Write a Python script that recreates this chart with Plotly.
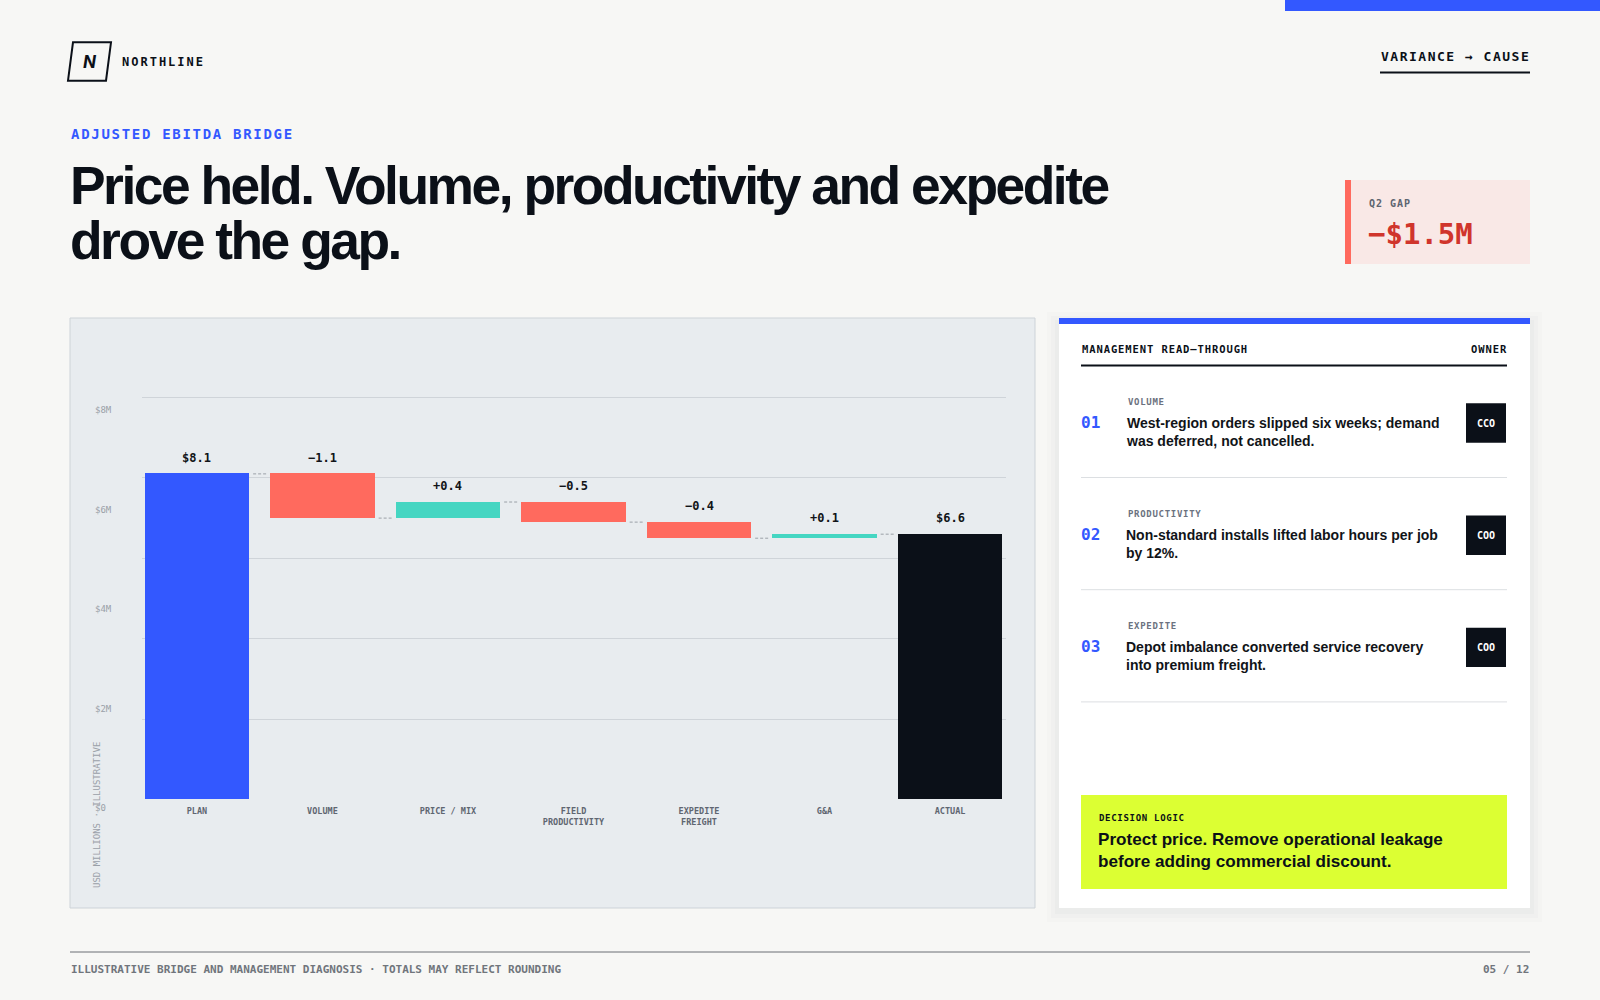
import plotly.graph_objects as go

# ---------------- data ----------------
categories = ["PLAN", "VOLUME", "PRICE / MIX", "FIELD<br>PRODUCTIVITY",
              "EXPEDITE<br>FREIGHT", "G&A", "ACTUAL"]
values = [8.1, -1.1, 0.4, -0.5, -0.4, 0.1, 6.6]
measures = ["absolute", "relative", "relative", "relative", "relative", "relative", "total"]
value_labels = ["$8.1", "\u22121.1", "+0.4", "\u22120.5", "\u22120.4", "+0.1", "$6.6"]
grid_values = [2, 4, 6, 8, 10]
tick_values = [0, 2, 4, 6, 8]
tick_text = ["$0", "$2M", "$4M", "$6M", "$8M"]

item_numbers = ["01", "02", "03"]
item_tags = ["VOLUME", "PRODUCTIVITY", "EXPEDITE"]
item_texts = ["West-region orders slipped six weeks; demand<br>was deferred, not cancelled.",
              "Non-standard installs lifted labor hours per job<br>by 12%.",
              "Depot imbalance converted service recovery<br>into premium freight."]
item_owners = ["CCO", "COO", "COO"]

# ---------------- styles ----------------
W, H = 1600, 1000
BG = "#f7f7f5"
BLUE = "#3358ff"
RED = "#ff6a5e"
TEAL = "#45d6c2"
INK = "#0b1018"
MONO = "DejaVu Sans Mono"
SANS = "Liberation Sans"


def px(x):
    return x / W


def py(y):
    return 1 - y / H


# ---------------- waterfall geometry from data ----------------
bases, heights, colors, levels = [], [], [], []
running = 0.0
for v, m in zip(values, measures):
    if m == "absolute":
        bases.append(0)
        heights.append(v)
        running = v
        colors.append(BLUE)
    elif m == "total":
        bases.append(0)
        heights.append(running)
        colors.append(INK)
    else:
        bases.append(min(running, running + v))
        heights.append(abs(v))
        running += v
        colors.append(RED if v < 0 else TEAL)
    levels.append(running)
tops = [b + h for b, h in zip(bases, heights)]

BAR_W = 0.835
xs = list(range(len(categories)))

fig = go.Figure()
fig.add_trace(go.Bar(x=xs, y=heights, base=bases, width=BAR_W,
                     marker=dict(color=colors, line=dict(width=0)),
                     hoverinfo="skip", showlegend=False))

cx, cy = [], []
pad = 0.03
for i in range(len(categories) - 1):
    cx += [i + BAR_W / 2 + pad, i + 1 - BAR_W / 2 - pad, None]
    cy += [levels[i], levels[i], None]
fig.add_trace(go.Scatter(x=cx, y=cy, mode="lines",
                         line=dict(color="#9aa0a7", width=1, dash="3px,2px"),
                         hoverinfo="skip", showlegend=False))

# dummy trace to carry the tick-label axis
fig.add_trace(go.Scatter(x=[0], y=[0], yaxis="y2", mode="markers",
                         marker=dict(opacity=0), hoverinfo="skip", showlegend=False))

annotations = []
for i, (t, lab) in enumerate(zip(tops, value_labels)):
    annotations.append(dict(x=i, y=t, xref="x", yref="y", text=f"<b>{lab}</b>",
                            showarrow=False, yshift=16, yanchor="middle",
                            font=dict(family=MONO, size=12, color="#111418")))


def txt(x, y, s, size, color, family=MONO, xanchor="left", yanchor="middle", ls=None,
        bold=False, angle=0):
    if ls is not None:
        s = f'<span style="letter-spacing:{ls}px">{s}</span>'
    if bold:
        s = f"<b>{s}</b>"
    if xanchor == "left":
        x -= 1.5
    annotations.append(dict(x=px(x), y=py(y), xref="paper", yref="paper", text=s,
                            showarrow=False, xanchor=xanchor, yanchor=yanchor,
                            textangle=angle, align="left",
                            font=dict(family=family, size=size, color=color)))


shapes = []


def rect(x0, y0, x1, y1, fill, line=None, lw=0, layer="below"):
    shapes.append(dict(type="rect", xref="paper", yref="paper",
                       x0=px(x0), x1=px(x1), y0=py(y1), y1=py(y0),
                       fillcolor=fill, line=dict(color=line or fill, width=lw), layer=layer))


def hline(x0, x1, y, color, w):
    shapes.append(dict(type="line", xref="paper", yref="paper",
                       x0=px(x0), x1=px(x1), y0=py(y), y1=py(y),
                       line=dict(color=color, width=w), layer="below"))


# top blue strip
rect(1285, 0, 1600, 11, BLUE)

# logo
shapes.append(dict(type="path", xref="paper", yref="paper",
                   path=f"M {px(73)},{py(42.3)} L {px(111)},{py(42.3)} L {px(106)},{py(80.7)} L {px(68)},{py(80.7)} Z",
                   line=dict(color=INK, width=2), fillcolor="rgba(0,0,0,0)", layer="below"))
txt(90, 62, "<i>N</i>", 17, INK, family="Inter", xanchor="center", bold=True)
txt(121, 62, "NORTHLINE", 12, INK, ls=2, bold=True)

# header right
txt(1532, 56, "VARIANCE \u2192 CAUSE", 13, INK, xanchor="right", ls=1.5, bold=True)
hline(1380, 1530, 72.5, INK, 2)

# eyebrow + title
txt(70, 134, "ADJUSTED EBITDA BRIDGE", 14, BLUE, ls=1.7, bold=True)
txt(69, 185, "Price held. Volume, productivity and expedite", 53.4, INK, family=SANS, ls=-2.5, bold=True)
txt(69, 240, "drove the gap.", 53.4, INK, family=SANS, ls=-2.5, bold=True)

# Q2 gap box
rect(1345, 180, 1530, 264, "#f9e8e6")
rect(1345, 180, 1351, 264, RED)
txt(1368, 203, "Q2 GAP", 10, "#5d6470", ls=1, bold=True)
txt(1367, 234, "\u2212$1.5M", 29, "#d0352c", bold=True)

# chart panel
rect(70, 318, 1035, 908, "#e8ecef", line="#cdd3d8", lw=1)
txt(97, 815, "USD MILLIONS \u00b7 ILLUSTRATIVE", 9, "#9aa0a8", xanchor="center", angle=-90)

# right panel with soft shadow
for k, a in [(12, 0.010), (8, 0.014), (4, 0.02)]:
    rect(1059 - k, 318 - k + 6, 1530 + k, 908 + k + 2, f"rgba(20,30,40,{a})")
rect(1059, 318, 1530, 908, "#ffffff")
rect(1059, 318, 1530, 324, BLUE)
txt(1081, 349, "MANAGEMENT READ\u2013THROUGH", 10.5, INK, ls=0.9, bold=True)
txt(1509, 349, "OWNER", 10.5, INK, xanchor="right", ls=0.9, bold=True)
hline(1081, 1507, 365.5, INK, 2)

ROW = 112.2
for r, (num, tag, body, own) in enumerate(zip(item_numbers, item_tags, item_texts, item_owners)):
    dy = r * ROW
    txt(1127, 401.7 + dy, tag, 9, "#6b7280", ls=0.7, bold=True)
    txt(1080, 422.5 + dy, num, 16, BLUE, bold=True)
    txt(1125.5, 431.7 + dy, body, 14, "#111418", family=SANS, bold=True)
    rect(1466, 403.3 + dy, 1506, 442.7 + dy, INK)
    txt(1486, 423 + dy, own, 10, "#ffffff", xanchor="center", bold=True)
    hline(1081, 1507, 477.5 + dy, "#dcdfe2", 1)

# decision logic
rect(1081, 795, 1507, 889, "#dcff33")
txt(1098, 817.7, "DECISION LOGIC", 9, INK, ls=0.7, bold=True)
txt(1097.5, 850.5, "Protect price. Remove operational leakage<br>before adding commercial discount.", 17.1,
    INK, family=SANS, bold=True)

# footer
hline(70, 1530, 952, "#6b6f75", 1)
txt(70, 969, "ILLUSTRATIVE BRIDGE AND MANAGEMENT DIAGNOSIS \u00b7 TOTALS MAY REFLECT ROUNDING", 11,
    "#70757c", bold=True)
txt(1531, 969, "05 / 12", 11, "#70757c", xanchor="right", bold=True)

Y_BOTTOM, Y_TOP = 799.5, 799.5 - 10.1 * 40.2

fig.update_layout(
    width=W, height=H, margin=dict(l=0, r=0, t=0, b=0),
    paper_bgcolor=BG, plot_bgcolor="rgba(0,0,0,0)",
    showlegend=False, bargap=0,
    shapes=shapes, annotations=annotations,
    xaxis=dict(domain=[px(142), px(1006)], range=[-0.438, 6.446],
               tickvals=xs, ticktext=categories, showgrid=False, zeroline=False,
               showline=False, ticks="", fixedrange=True, ticklabelstandoff=5,
               tickfont=dict(family=MONO, size=8.5, color="#5f6671", weight="bold")),
    yaxis=dict(domain=[py(Y_BOTTOM), py(Y_TOP)], range=[0, 10.1], tickvals=grid_values,
               showticklabels=False, gridcolor="#cfd4d9", gridwidth=1, zeroline=False,
               showline=False, ticks="", fixedrange=True),
    yaxis2=dict(anchor="free", position=px(91), domain=[py(830), py(380)],
                range=[-(830 - 808) / 49.75, (808 - 380) / 49.75],
                tickvals=tick_values, ticktext=tick_text, ticklabelposition="inside",
                showgrid=False, zeroline=False, showline=False, ticks="",
                tickfont=dict(family=MONO, size=9, color="#9aa0a8"), fixedrange=True),
)

fig.write_html("out.html")
